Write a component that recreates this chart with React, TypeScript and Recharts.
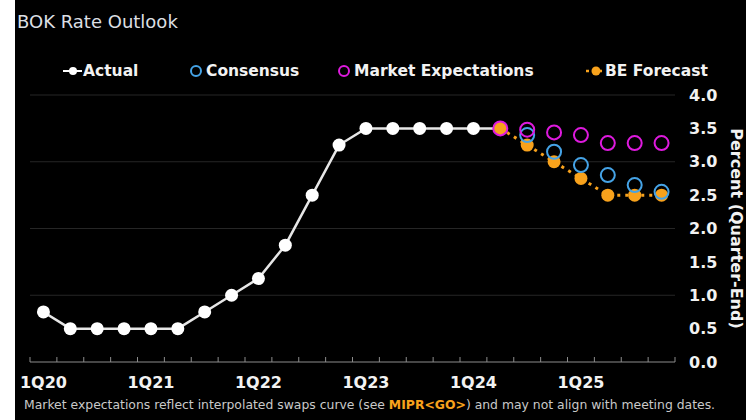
import React from 'react';
import { ComposedChart, Line, XAxis, YAxis, CartesianGrid, Legend } from 'recharts';

const quarters = [
  '1Q20', '2Q20', '3Q20', '4Q20',
  '1Q21', '2Q21', '3Q21', '4Q21',
  '1Q22', '2Q22', '3Q22', '4Q22',
  '1Q23', '2Q23', '3Q23', '4Q23',
  '1Q24', '2Q24', '3Q24', '4Q24',
  '1Q25', '2Q25', '3Q25', '4Q25',
];

// actual policy rate, 1Q20 .. 2Q24
const actual = [0.75, 0.5, 0.5, 0.5, 0.5, 0.5, 0.75, 1.0, 1.25, 1.75, 2.5, 3.25, 3.5, 3.5, 3.5, 3.5, 3.5, 3.5];

// forecasts, 2Q24 .. 4Q25 (consensus starts one quarter later)
const marketExp = [3.5, 3.48, 3.44, 3.4, 3.28, 3.28, 3.28];
const beForecast = [3.5, 3.25, 3.0, 2.75, 2.5, 2.5, 2.5];
const consensus = [3.4, 3.15, 2.95, 2.8, 2.65, 2.55];

const yTicks = [0, 0.5, 1.0, 1.5, 2.0, 2.5, 3.0, 3.5, 4.0];
const gridValues = [1, 2, 3, 4];

const forecastStart = quarters.indexOf('2Q24');
const consensusStart = quarters.indexOf('3Q24');

const data = quarters.map((q, i) => ({
  idx: i,
  q,
  actual: i < actual.length ? actual[i] : null,
  market: i >= forecastStart ? marketExp[i - forecastStart] : null,
  be: i >= forecastStart ? beForecast[i - forecastStart] : null,
  consensus: i >= consensusStart ? consensus[i - consensusStart] : null,
}));

// ticks sit on the quarter boundaries, labels in the middle of each 1Q slot
const boundaryTicks = [...quarters.map((_, i) => i - 0.5), quarters.length - 0.5];

const WHITE = '#ffffff';
const BLUE = '#45a3e6';
const MAGENTA = '#de1ade';
const ORANGE = '#f8a21c';
const AXIS = '#8c8c8c';
const FONT = '"DejaVu Sans", Verdana, sans-serif';

const QuarterTick = (props: any) => {
  const { x, y, payload, width } = props;
  const half = (width || 645) / (boundaryTicks.length - 1) / 2;
  const q = quarters[payload.value + 0.5];
  return (
    <g>
      <line x1={x} x2={x} y1={y} y2={y - 5} stroke={AXIS} strokeWidth={1} />
      {q && q.startsWith('1Q') ? (
        <text
          x={x + half}
          y={y + 15}
          dy="0.71em"
          textAnchor="middle"
          fill="#f2f2f2"
          fontFamily={FONT}
          fontWeight={700}
          fontSize={16}
        >
          {q}
        </text>
      ) : null}
    </g>
  );
};

const renderLegend = () => (
  <div style={{ position: 'relative', height: 20, fontFamily: FONT, fontWeight: 700, fontSize: 15.5, color: '#f2f2f2' }}>
    <div style={{ position: 'absolute', left: 48, top: 0, display: 'flex', alignItems: 'center', height: 20 }}>
      <svg width={20} height={10}>
        <line x1={0} x2={19} y1={5} y2={5} stroke={WHITE} strokeWidth={2} />
        <circle cx={10} cy={5} r={4} fill={WHITE} />
      </svg>
      <span>Actual</span>
    </div>
    <div style={{ position: 'absolute', left: 175, top: 0, display: 'flex', alignItems: 'center', height: 20 }}>
      <svg width={16} height={14}>
        <circle cx={6} cy={7} r={5} fill="none" stroke={BLUE} strokeWidth={2} />
      </svg>
      <span>Consensus</span>
    </div>
    <div style={{ position: 'absolute', left: 323, top: 0, display: 'flex', alignItems: 'center', height: 20 }}>
      <svg width={16} height={14}>
        <circle cx={6} cy={7} r={5} fill="none" stroke={MAGENTA} strokeWidth={2} />
      </svg>
      <span>Market Expectations</span>
    </div>
    <div style={{ position: 'absolute', left: 571, top: 0, display: 'flex', alignItems: 'center', height: 20 }}>
      <svg width={19} height={10}>
        <line x1={0} x2={16} y1={5} y2={5} stroke={ORANGE} strokeWidth={2.5} strokeDasharray="3 4" />
        <circle cx={10} cy={5} r={4.5} fill={ORANGE} />
      </svg>
      <span>BE Forecast</span>
    </div>
  </div>
);

const renderYLabel = (props: any) => {
  const vb = props.viewBox;
  const cx = vb.x + vb.width - 10;
  const cy = vb.y + vb.height / 2;
  return (
    <text
      x={cx}
      y={cy}
      transform={`rotate(90, ${cx}, ${cy})`}
      textAnchor="middle"
      dominantBaseline="central"
      fill="#f2f2f2"
      fontFamily={FONT}
      fontWeight={700}
      fontSize={16}
    >
      Percent (Quarter-End)
    </text>
  );
};

export default function App() {
  return (
    <div style={{ position: 'absolute', left: 0, top: 0, width: 746, height: 420, background: '#fff' }}>
      <div style={{ position: 'absolute', left: 15, top: 0, width: 731, height: 420, background: '#000', fontFamily: FONT }}>
        <div style={{ position: 'absolute', left: 2, top: 13, fontSize: 18, lineHeight: '18px', color: '#dcdfe3' }}>
          BOK Rate Outlook
        </div>
        <ComposedChart width={731} height={420} data={data} margin={{ top: 95, right: 0, bottom: 27, left: 15 }}>
          <CartesianGrid vertical={false} horizontalValues={gridValues} stroke="#262626" strokeWidth={1} />
          <XAxis
            dataKey="idx"
            type="number"
            domain={[-0.5, quarters.length - 0.5]}
            ticks={boundaryTicks}
            interval={0}
            height={31}
            tick={<QuarterTick />}
            tickSize={0}
            tickMargin={0}
            tickLine={false}
            axisLine={{ stroke: AXIS }}
          />
          <YAxis
            orientation="right"
            domain={[0, 4]}
            ticks={yTicks}
            interval={0}
            width={71}
            axisLine={false}
            tickLine={false}
            tickSize={0}
            tickMargin={14}
            tickFormatter={(v: number) => v.toFixed(1)}
            tick={{ fill: '#f2f2f2', fontFamily: FONT, fontWeight: 700, fontSize: 16 }}
            label={{ content: renderYLabel }}
          />
          <Legend
            content={renderLegend}
            layout="horizontal"
            verticalAlign="middle"
            align="center"
            wrapperStyle={{ top: 61, left: 0, width: 731 }}
          />
          <Line
            dataKey="actual"
            name="Actual"
            stroke="#e6e6e6"
            strokeWidth={2.5}
            dot={{ r: 6.5, fill: WHITE, stroke: 'none' }}
            activeDot={false}
            isAnimationActive={false}
          />
          <Line
            dataKey="be"
            name="BE Forecast"
            stroke={ORANGE}
            strokeWidth={3}
            strokeDasharray="3 5"
            dot={{ r: 6.5, fill: ORANGE, stroke: 'none' }}
            activeDot={false}
            isAnimationActive={false}
          />
          <Line
            dataKey="consensus"
            name="Consensus"
            stroke="none"
            dot={{ r: 7, fill: 'none', stroke: BLUE, strokeWidth: 2 }}
            activeDot={false}
            isAnimationActive={false}
          />
          <Line
            dataKey="market"
            name="Market Expectations"
            stroke="none"
            dot={{ r: 7, fill: 'none', stroke: MAGENTA, strokeWidth: 2 }}
            activeDot={false}
            isAnimationActive={false}
          />
        </ComposedChart>
        <div style={{ position: 'absolute', left: 9, top: 399, fontSize: 12.4, lineHeight: '12px', color: '#c9c9c9', whiteSpace: 'nowrap' }}>
          Market expectations reflect interpolated swaps curve (see{' '}
          <span style={{ color: ORANGE, fontWeight: 700 }}>MIPR&lt;GO&gt;</span>) and may not align with meeting dates.
        </div>
      </div>
    </div>
  );
}
